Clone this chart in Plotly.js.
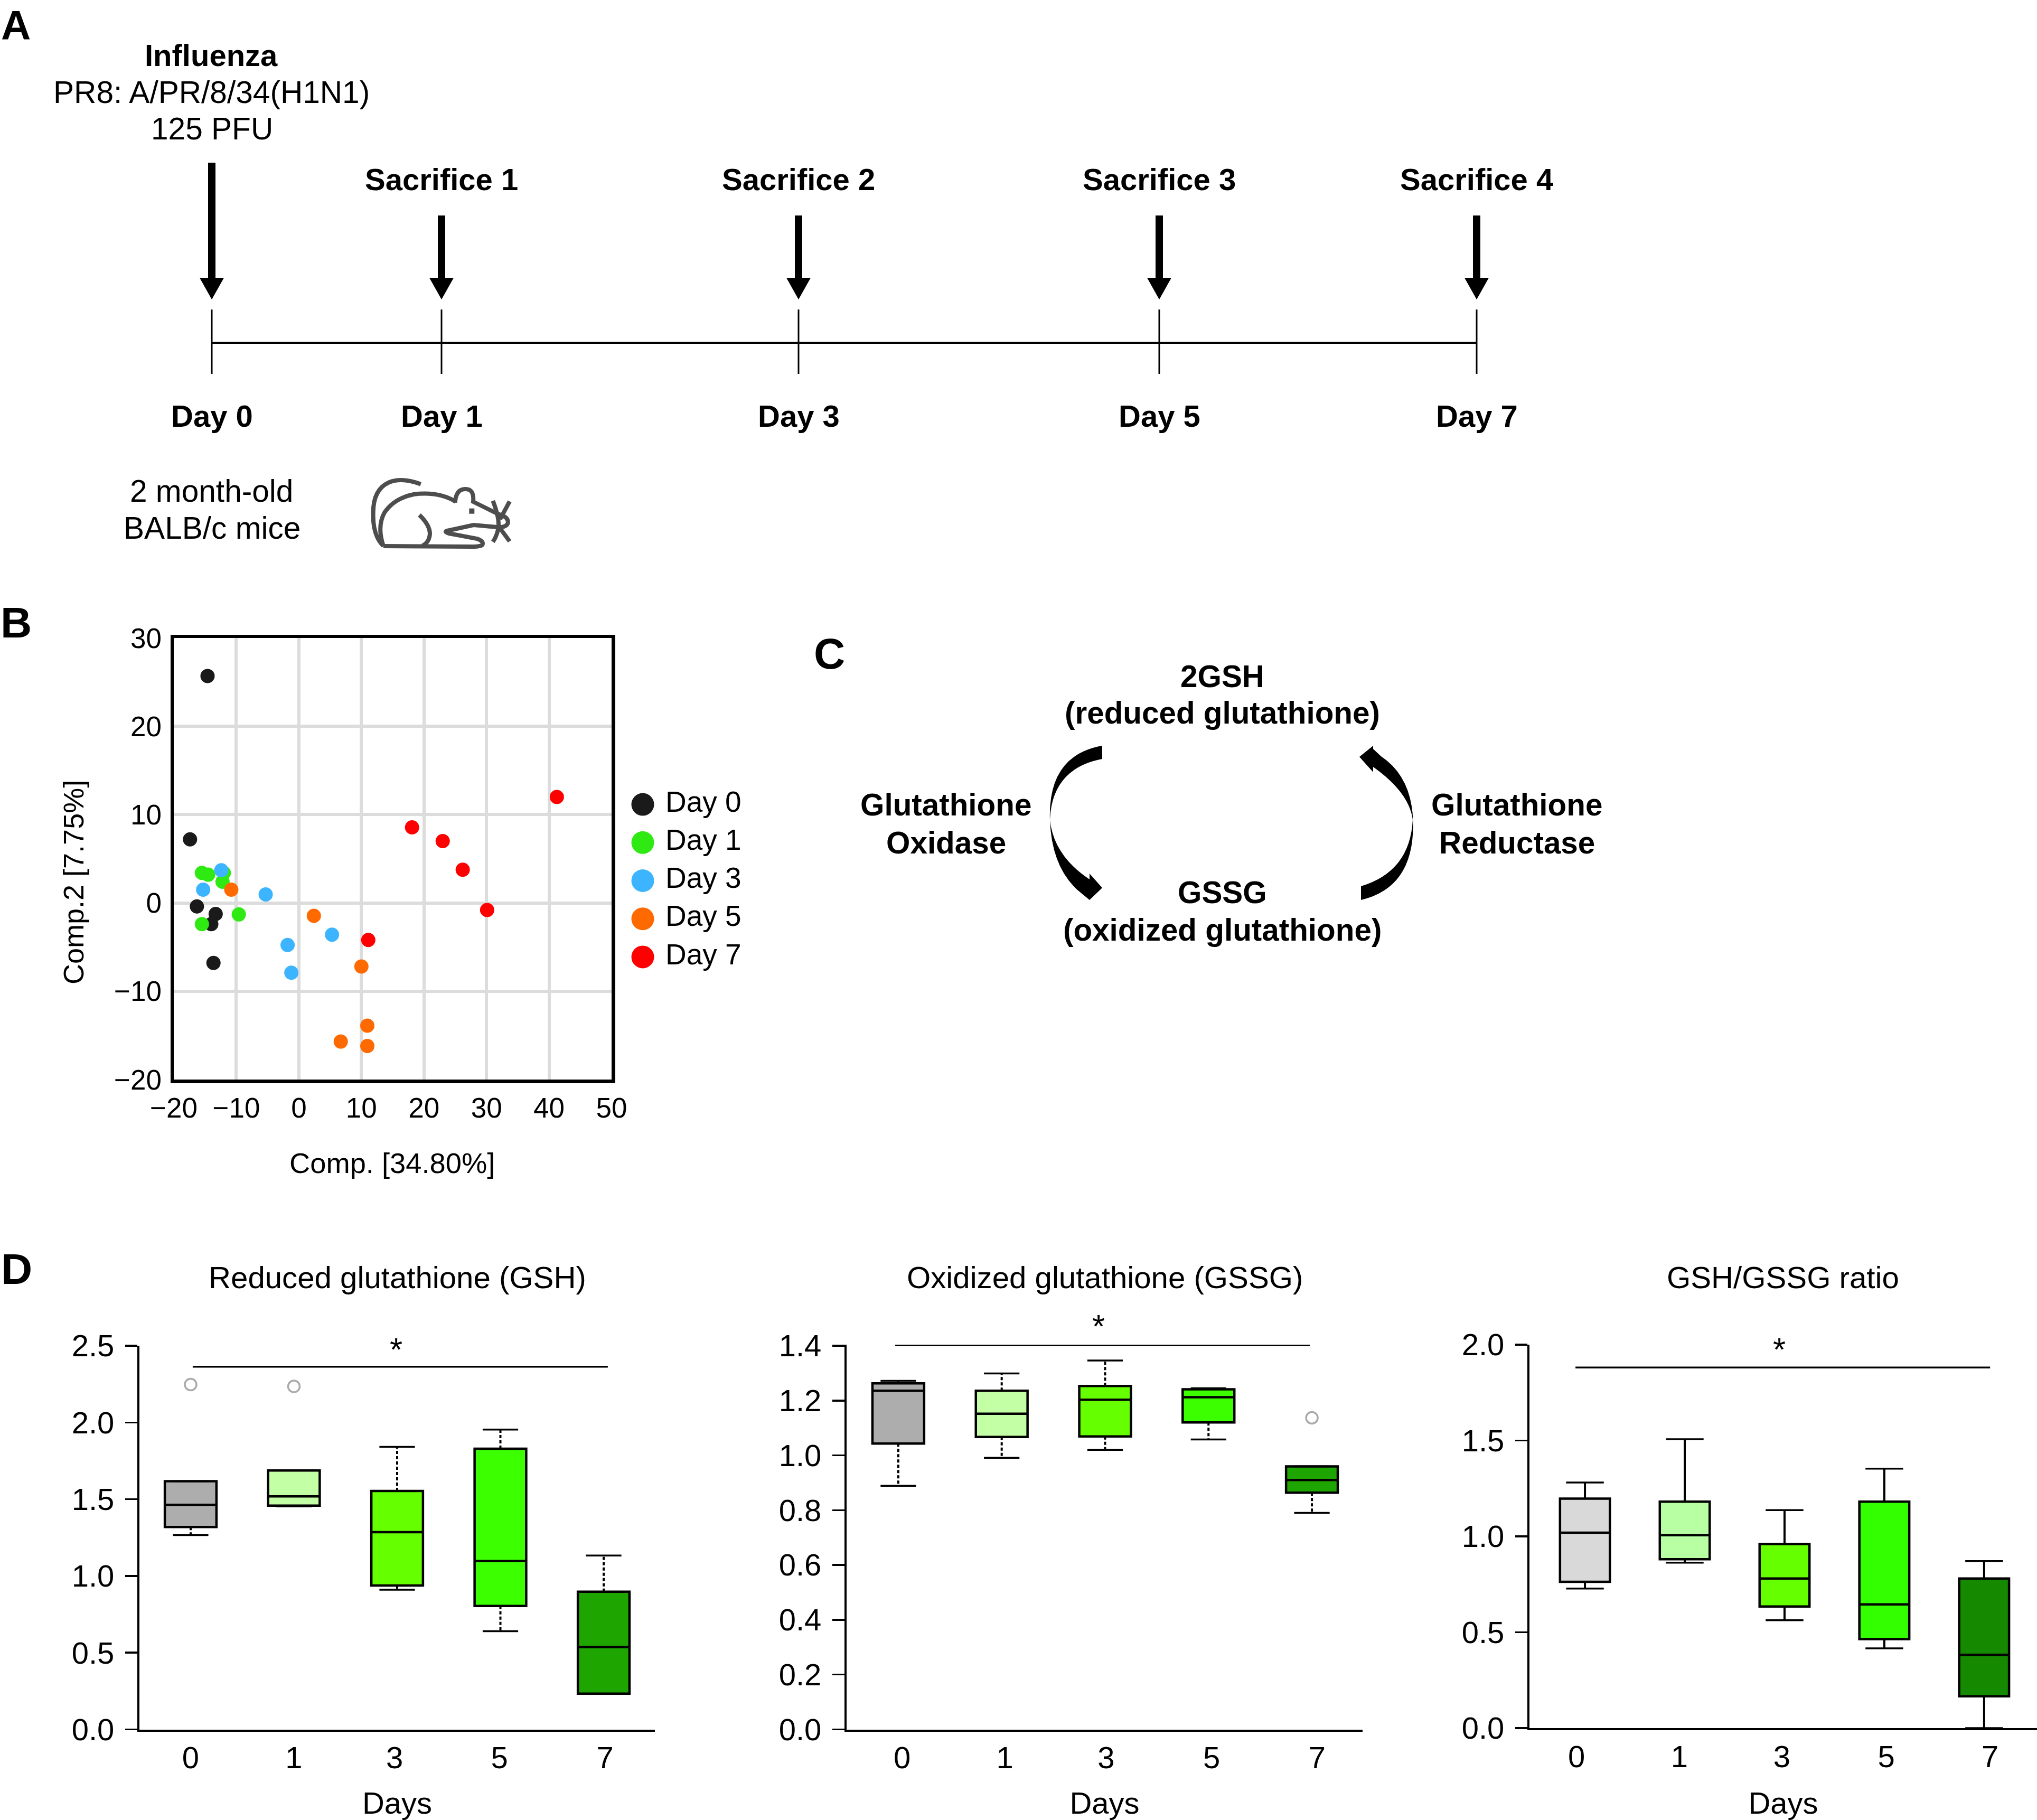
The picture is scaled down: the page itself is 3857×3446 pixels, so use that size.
<!DOCTYPE html>
<html><head><meta charset="utf-8">
<script src="https://cdn.plot.ly/plotly-3.0.1.min.js"></script>
<style>html,body{margin:0;padding:0;background:#fff}</style></head>
<body><div id="chart" style="width:3857px;height:3446px"></div>
<script>
// ---------- Panel B data ----------
const seriesNames = ['Day 0','Day 1','Day 3','Day 5','Day 7'];
const seriesColors = ['#1a1a1a','#2eea12','#3db4ff','#ff6a00','#ff0000'];
const day0X = [-14.6,-17.4,-16.3,-13.3,-14.0,-13.65];
const day0Y = [25.7,7.2,-0.4,-1.25,-2.4,-6.8];
const day1X = [-15.5,-14.5,-12.0,-12.2,-9.6,-15.5];
const day1Y = [3.4,3.2,3.4,2.4,-1.3,-2.4];
const day3X = [-12.4,-15.3,-5.3,-1.8,5.3,-1.2];
const day3Y = [3.7,1.5,0.96,-4.76,-3.6,-7.9];
const day5X = [-10.8,2.4,10.0,10.95,6.7,10.95];
const day5Y = [1.5,-1.46,-7.2,-13.9,-15.7,-16.2];
const day7X = [41.25,18.1,23.0,26.2,30.1,11.1];
const day7Y = [12.0,8.56,7.0,3.76,-0.8,-4.2];
// ---------- Panel D data ----------
const dayLabels = ['0','1','3','5','7'];
const gshQ1 = [1.319,1.458,0.938,0.804,0.233];
const gshMed = [1.463,1.518,1.285,1.097,0.537];
const gshQ3 = [1.617,1.687,1.554,1.829,0.897];
const gshLow = [1.266,1.453,0.910,0.640,0.233];
const gshUp = [1.617,1.687,1.841,1.954,1.133];
const gshOutX = [0,1];
const gshOutY = [2.247,2.235];
const gssgQ1 = [1.043,1.067,1.069,1.120,0.864];
const gssgMed = [1.236,1.152,1.203,1.212,0.910];
const gssgQ3 = [1.263,1.236,1.253,1.241,0.960];
const gssgLow = [0.889,0.991,1.020,1.058,0.790];
const gssgUp = [1.272,1.299,1.346,1.245,0.960];
const gssgOutX = [4];
const gssgOutY = [1.137];
const ratioQ1 = [0.763,0.881,0.634,0.464,0.166];
const ratioMed = [1.019,1.006,0.780,0.645,0.382];
const ratioQ3 = [1.197,1.181,0.960,1.181,0.780];
const ratioLow = [0.728,0.863,0.563,0.416,0.0];
const ratioUp = [1.281,1.507,1.137,1.353,0.871];
const fillsA = ['#adadad','#c3ffa4','#66ff00','#3cff00','#1ea500'];
const fillsC = ['#d9d9d9','#b8ffa3','#66ff00','#33ff00','#158a00'];

const W = 3857, H = 3446, FONT = '"Liberation Sans", Arial, sans-serif';
const fx = x => x / W, fy = y => 1 - y / H;
const annotations = [], shapes = [], traces = [];

function txt(text, x, y, size, bold, extra) {
  annotations.push(Object.assign({text, x: fx(x), y: fy(y), xref: 'paper', yref: 'paper',
    xanchor: 'center', yanchor: 'middle', showarrow: false,
    font: {family: FONT, size, color: '#000', weight: bold ? 700 : 400}}, extra || {}));
}
function pathShape(cmds, fill, lineColor, lineW) {
  const s = cmds.replace(/([MLQC ])(-?[\d.]+),(-?[\d.]+)/g, (m, c, a, b) =>
    c + fx(+a).toFixed(6) + ',' + fy(+b).toFixed(6));
  shapes.push({type: 'path', xref: 'paper', yref: 'paper', path: s,
    fillcolor: fill || 'rgba(0,0,0,0)', line: {color: lineColor || 'rgba(0,0,0,0)', width: lineW || 0}});
}
function lineShape(x0, y0, x1, y1, w, color) {
  shapes.push({type: 'line', xref: 'paper', yref: 'paper', x0: fx(x0), y0: fy(y0), x1: fx(x1), y1: fy(y1),
    line: {color: color || '#000', width: w}});
}
// ---------- Panel letters ----------
txt('A', 30, 48, 78, true); txt('B', 30, 1178, 82, true);
txt('C', 1570, 1237, 82, true); txt('D', 32, 2402, 82, true);
// ---------- Panel A schematic ----------
const tickXs = [401, 836, 1512, 2195, 2796];
lineShape(401, 649, 2796, 649, 4);
tickXs.forEach((x, i) => {
  lineShape(x, 586, x, 708, 3);
  txt('Day ' + dayLabels[i], x, 787, 58, true);
  const top = i === 0 ? 308 : 408;
  pathShape(`M${x-7},${top} L${x+7},${top} L${x+7},526 L${x+23},526 L${x},567 L${x-23},526 L${x-7},526 Z`, '#000');
  if (i > 0) txt('Sacrifice ' + i, x, 340, 58, true);
});
txt('Influenza', 400, 105, 58, true);
txt('PR8: A/PR/8/34(H1N1)', 400, 175, 58.6, false);
txt('125 PFU', 401, 244, 58.6, false);
txt('2 month-old', 400, 929, 58.6, false);
txt('BALB/c mice', 401, 1000, 58.6, false);
// mouse icon
const mz = (x, y) => (650 + x / 3).toFixed(1) + ',' + (850 + y / 3).toFixed(1);
function mouse(parts) {
  let out = '';
  parts.forEach(p => { out += p[0]; for (let i = 1; i < p.length; i += 2) out += (i > 1 ? ' ' : '') + mz(p[i], p[i + 1]); out += ' '; });
  return out.trim();
}
const mouseCol = '#4d4d4d';
[
 [['M',440,200],['Q',330,160,260,190],['Q',170,230,170,360],['Q',165,490,228,552]],
 [['M',228,552],['Q',190,440,235,360],['Q',290,280,400,258],['Q',540,240,640,300]],
 [['M',635,305],['Q',640,230,690,228],['Q',745,225,738,300],['L',880,370],['Q',940,385,935,420],['Q',930,445,880,445],['L',740,432],['L',590,465],['Q',570,470,600,480],['L',760,510],['Q',800,525,790,545],['Q',780,555,740,555],['L',228,552]],
 [['M',432,375],['Q',490,430,492,480],['Q',490,530,450,550]],
 [['M',850,295],['Q',890,400,880,450],['Q',875,490,850,528]],
 [['M',945,298],['L',890,400]],
 [['M',890,450],['L',945,525]]
].forEach(p => pathShape(mouse(p), null, mouseCol, 8));
pathShape(mouse([['M',715,338],['L',745,338],['L',745,368],['L',715,368]]) + ' Z', mouseCol);
// ---------- Panel C schematic ----------
txt('2GSH', 2314, 1280, 58.4, true);
txt('(reduced glutathione)', 2314, 1349, 58.4, true);
txt('GSSG', 2314, 1689, 58.4, true);
txt('(oxidized glutathione)', 2314, 1761, 58.4, true);
txt('Glutathione', 1791, 1523, 58.4, true);
txt('Oxidase', 1791, 1595, 58.4, true);
txt('Glutathione', 2872, 1523, 58.4, true);
txt('Reductase', 2872, 1595, 58.4, true);
pathShape('M2087,1412 Q1984,1430 1988,1552 Q1991,1640 2040,1685 L2063,1704 L2087,1681 L2063,1654 L2063,1665 Q1995,1620 1988,1552 Q1992,1455 2087,1437 Z', '#000');
pathShape('M2600,1412 L2574,1433 L2600,1462 L2600,1452 Q2668,1500 2675,1552 Q2670,1650 2577,1678 L2577,1704 Q2680,1680 2675.5,1552 Q2672,1470 2615,1432 L2600,1418 Z', '#000');

// ---------- Panel B ----------
const seriesX = [day0X, day1X, day3X, day5X, day7X], seriesY = [day0Y, day1Y, day3Y, day5Y, day7Y];
seriesNames.forEach((n, i) => {
  traces.push({type: 'scatter', mode: 'markers', name: n, x: seriesX[i], y: seriesY[i], xaxis: 'x', yaxis: 'y',
    marker: {color: seriesColors[i], size: 27}, showlegend: false});
  traces.push({type: 'scatter', mode: 'markers', name: n, x: [0], y: [i], xaxis: 'x5', yaxis: 'y5',
    marker: {color: seriesColors[i], size: 43}, showlegend: false, cliponaxis: false});
  traces.push({type: 'scatter', mode: 'text', name: n, x: [0.58], y: [i], xaxis: 'x5', yaxis: 'y5',
    text: [n], textposition: 'middle right',
    textfont: {family: FONT, size: 55, color: '#000'}, showlegend: false, cliponaxis: false});
});
const bAxis = (o) => Object.assign({showgrid: true, gridcolor: '#dcdcdc', gridwidth: 6, zeroline: false,
  showline: true, linecolor: '#000', linewidth: 6.5, mirror: true, ticks: '', ticklen: 0,
  tickfont: {family: FONT, size: 53, color: '#000'}}, o);
txt('Comp.2 [7.75%]', 139, 1671, 54, false, {textangle: -90});
txt('Comp. [34.80%]', 742, 2202, 54.3, false);

// ---------- Panel D ----------
function boxPanel(ax, ay, q1, med, q3, low, up, fills, dash, capW, outX, outY, sigX, sigY) {
  dayLabels.forEach((d, i) => {
    traces.push({type: 'box', name: d, x: [i], q1: [q1[i]], median: [med[i]], q3: [q3[i]],
      lowerfence: [q1[i]], upperfence: [q3[i]], width: 0.5, whiskerwidth: 0, boxpoints: false,
      fillcolor: fills[i], line: {color: '#000', width: 4.5}, xaxis: ax, yaxis: ay, showlegend: false});
  });
  const sx = [], sy = [];
  dayLabels.forEach((d, i) => { sx.push(i, i, null, i, i, null); sy.push(q3[i], up[i], null, q1[i], low[i], null); });
  traces.push({type: 'scatter', mode: 'lines', x: sx, y: sy, xaxis: ax, yaxis: ay, showlegend: false,
    line: {color: '#000', width: 4, dash: dash}, connectgaps: false});
  traces.push({type: 'scatter', mode: 'markers', x: dayLabels.map((d, i) => i).concat(dayLabels.map((d, i) => i)),
    y: low.concat(up), xaxis: ax, yaxis: ay, showlegend: false,
    marker: {symbol: 'line-ew', size: capW, line: {color: '#000', width: 3.5}}});
  if (outX) traces.push({type: 'scatter', mode: 'markers', x: outX, y: outY, xaxis: ax, yaxis: ay, showlegend: false,
    marker: {symbol: 'circle-open', size: 22, color: '#aaaaaa', line: {color: '#aaaaaa', width: 3.5}}});
  traces.push({type: 'scatter', mode: 'lines', x: sigX, y: sigY, xaxis: ax, yaxis: ay, showlegend: false,
    cliponaxis: false, line: {color: '#000', width: 3.5}});
}
boxPanel('x2','y2',gshQ1,gshMed,gshQ3,gshLow,gshUp,fillsA,'6px,4px',48,gshOutX,gshOutY,[0.02,4.04],[2.363,2.363]);
boxPanel('x3','y3',gssgQ1,gssgMed,gssgQ3,gssgLow,gssgUp,fillsA,'6px,4px',48,gssgOutX,gssgOutY,[-0.03,3.98],[1.402,1.402]);
boxPanel('x4','y4',ratioQ1,ratioMed,ratioQ3,ratioLow,ratioUp,fillsC,'solid',51,null,null,[-0.095,4.06],[1.881,1.881]);
const dx = (l, r, xr, tv) => ({domain: [fx(l), fx(r)], range: xr, tickmode: 'array', tickvals: tv, ticktext: dayLabels,
  showgrid: false, zeroline: false, showline: true, linecolor: '#000', linewidth: 4, ticks: '', ticklen: 0,
  ticklabelstandoff: 0, tickfont: {family: FONT, size: 58, color: '#000'},
  title: {text: 'Days', standoff: 38, font: {family: FONT, size: 58, color: '#000'}}});
const dy = (t, b, yr, dt, anchor) => ({domain: [fy(b), fy(t)], range: yr, dtick: dt, tick0: 0, tickformat: '.1f',
  showgrid: false, zeroline: false, showline: true, linecolor: '#000', linewidth: 4, ticks: 'outside', ticklen: 23, tickwidth: 3.5,
  tickcolor: '#000', ticklabelstandoff: 9, tickfont: {family: FONT, size: 58, color: '#000'}, anchor});
txt('Reduced glutathione (GSH)', 752, 2418, 58.2, false);
txt('Oxidized glutathione (GSSG)', 2092, 2418, 58.2, false);
txt('GSH/GSSG ratio', 3376, 2418, 58.2, false);
txt('*', 750, 2554, 62, false);
txt('*', 2080, 2510, 62, false);
txt('*', 3369, 2554, 62, false);

const layout = {
  width: W, height: H, autosize: false, margin: {l: 0, r: 0, t: 0, b: 0}, paper_bgcolor: '#fff', plot_bgcolor: 'rgba(0,0,0,0)',
  showlegend: false, boxmode: 'overlay', annotations, shapes,
  xaxis: bAxis({domain: [fx(329), fx(1158)], range: [-20, 50], dtick: 10, tick0: -20, anchor: 'y', ticklabelstandoff: 2}),
  yaxis: bAxis({domain: [fy(2044), fy(1208)], range: [-20, 30], dtick: 10, tick0: -20, anchor: 'x', ticklabelstandoff: 6}),
  xaxis2: Object.assign(dx(264, 1240, [-0.496, 4.496], [0, 1, 1.975, 2.99, 4.013]), {anchor: 'y2'}),
  yaxis2: dy(2548, 3274.5, [0, 2.5], 0.5, 'x2'),
  xaxis3: Object.assign(dx(1603, 2580, [-0.5, 4.49], [0.037, 1.03, 2.01, 3.03, 4.05]), {anchor: 'y3'}),
  yaxis3: dy(2546, 3274.5, [0, 1.404], 0.2, 'x3'),
  xaxis4: Object.assign(dx(2896, 3857, [-0.556, 4.53], [-0.085, 0.947, 1.973, 3.02, 4.06]), {anchor: 'y4'}),
  yaxis4: dy(2546, 3272, [0, 2.0], 0.5, 'x4'),
  xaxis5: {domain: [fx(1180), fx(1500)], range: [-0.5, 3.824], visible: false, anchor: 'y5'},
  yaxis5: {domain: [fy(1848), fy(1487)], range: [4.5, -0.5], visible: false, anchor: 'x5'}
};
Plotly.newPlot('chart', traces, layout, {displayModeBar: false, staticPlot: true});
</script></body></html>
